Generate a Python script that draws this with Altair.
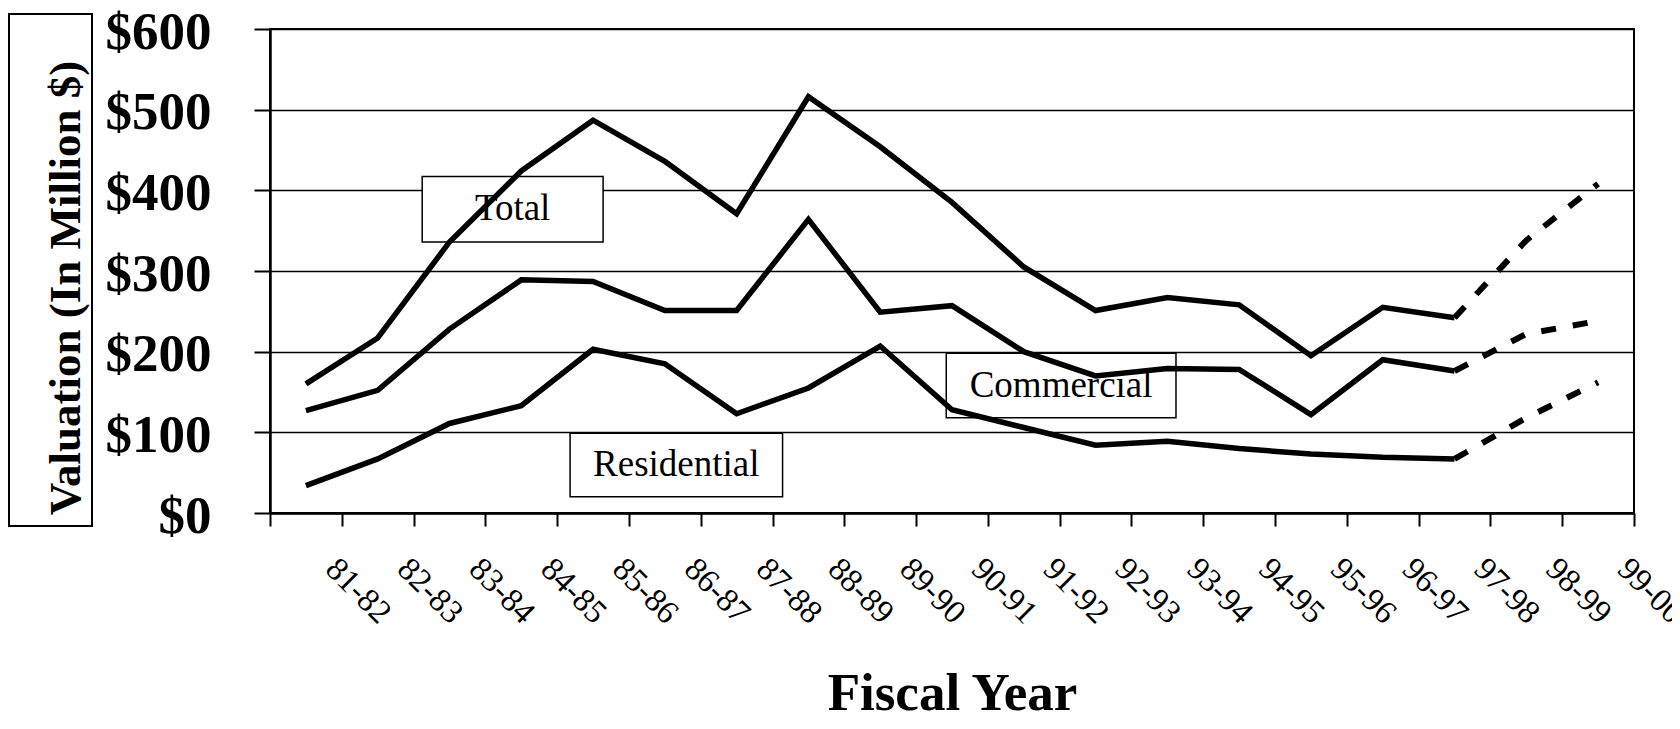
import altair as alt
import pandas as pd

# ---- data ----
years = ["81-82", "82-83", "83-84", "84-85", "85-86", "86-87", "87-88", "88-89",
         "89-90", "90-91", "91-92", "92-93", "93-94", "94-95", "95-96", "96-97",
         "97-98", "98-99", "99-00"]

# actual values 81-82 .. 97-98
total_actual = [160, 217, 336, 424, 487, 436, 371, 516, 454, 385, 305, 251, 267, 258, 195, 255, 242]
commercial_actual = [127, 152, 228, 289, 287, 251, 251, 364, 249, 257, 200, 170, 179, 178, 122, 190, 176]
residential_actual = [34, 67, 111, 133, 203, 185, 123, 155, 207, 128, 106, 84, 89, 80, 73, 69, 67]

# projected values 97-98 .. 99-00
proj_years = ["97-98", "98-99", "99-00"]
total_proj = [242, 338, 408]
commercial_proj = [176, 222, 238]
residential_proj = [67, 118, 162]

y_ticks = [0, 100, 200, 300, 400, 500, 600]

# label boxes (category-band units for x, $M for y)
box_labels = ["Total", "Commercial", "Residential"]
box_x1 = [2.12, 9.42, 4.18]
box_x2 = [4.64, 12.62, 7.14]
box_y1 = [336, 118, 20]
box_y2 = [417, 198, 99]

# ---- build tables ----
def rows(series, yrs, vals, seg):
    return [{"series": series, "year": y, "pos": years.index(y) + 0.5,
             "value": v, "seg": seg} for y, v in zip(yrs, vals)]

act_years = years[:len(total_actual)]
records = (rows("Total", act_years, total_actual, "actual")
           + rows("Commercial", act_years, commercial_actual, "actual")
           + rows("Residential", act_years, residential_actual, "actual")
           + rows("Total", proj_years, total_proj, "projected")
           + rows("Commercial", proj_years, commercial_proj, "projected")
           + rows("Residential", proj_years, residential_proj, "projected"))
df = pd.DataFrame(records)

boxes = pd.DataFrame({"label": box_labels, "x1": box_x1, "x2": box_x2,
                      "y1": box_y1, "y2": box_y2})
boxes["xc"] = (boxes["x1"] + boxes["x2"]) / 2
boxes["yc"] = (boxes["y1"] + boxes["y2"]) / 2

W, H = 1364, 484
SERIF = "Liberation Serif"

arr = "[" + ",".join("'%s'" % y for y in years) + "]"
label_expr = "datum.value >= 1 ? %s[datum.value - 1] : ''" % arr

x_scale = alt.Scale(domain=[0, len(years)], nice=False, zero=False)
y_scale = alt.Scale(domain=[0, 600], nice=False)

x_axis = alt.Axis(values=list(range(len(years) + 1)), labelExpr=label_expr,
                  labelAngle=45, labelAlign="left", labelBaseline="top",
                  labelFont=SERIF, labelFontSize=33, labelColor="black",
                  labelPadding=26, labelFlush=False, labelOverlap=False,
                  tickSize=13, tickWidth=2, tickColor="black",
                  domainColor="black", domainWidth=2.5, grid=False,
                  title="Fiscal Year", titleFont=SERIF, titleFontSize=53,
                  titleFontWeight="bold", titleColor="black",
                  titleY=196, titleX=W / 2, titleBaseline="alphabetic",
                  titleAlign="center")

y_axis = alt.Axis(values=y_ticks, labelExpr="'$' + datum.value",
                  labelFont=SERIF, labelFontSize=53, labelFontWeight="bold",
                  labelColor="black", labelPadding=43, labelFlush=False,
                  labelOffset=3,
                  tickSize=16, tickWidth=2, tickColor="black",
                  domainColor="black", domainWidth=2.5,
                  grid=True, gridColor="black", gridWidth=1.5, gridOpacity=1,
                  title=None)

base = alt.Chart(df)

solid = base.transform_filter(alt.datum.seg == "actual").mark_line(
    color="black", strokeWidth=5.5, strokeJoin="miter"
).encode(
    x=alt.X("pos:Q", scale=x_scale, axis=x_axis),
    y=alt.Y("value:Q", scale=y_scale, axis=y_axis),
    detail="series:N",
    order="pos:Q",
)

dashed = base.transform_filter(alt.datum.seg == "projected").mark_line(
    color="black", strokeWidth=6, strokeDash=[15, 17]
).encode(
    x=alt.X("pos:Q", scale=x_scale),
    y=alt.Y("value:Q", scale=y_scale),
    detail="series:N",
    order="pos:Q",
)

box_rect = alt.Chart(boxes).mark_rect(
    fill="white", stroke="black", strokeWidth=1.5
).encode(
    x=alt.X("x1:Q", scale=x_scale), x2="x2:Q",
    y=alt.Y("y1:Q", scale=y_scale), y2="y2:Q",
)

box_text = alt.Chart(boxes).mark_text(
    font=SERIF, fontSize=37, color="black", align="center", baseline="middle"
).encode(
    x=alt.X("xc:Q", scale=x_scale),
    y=alt.Y("yc:Q", scale=y_scale),
    text="label:N",
)

one = pd.DataFrame({"t": ["Valuation (In Million $)"]})
title_box = alt.Chart(one).mark_rect(
    fill="white", stroke="black", strokeWidth=2
).encode(
    x=alt.value(-261), x2=alt.value(-178), y=alt.value(-15), y2=alt.value(497)
)
title_text = alt.Chart(one).mark_text(
    font=SERIF, fontSize=45, fontWeight="bold", color="black", angle=270,
    align="center", baseline="alphabetic"
).encode(
    x=alt.value(-190), y=alt.value(259), text="t:N"
)

chart = alt.layer(
    title_box, title_text, box_rect, box_text, solid, dashed
).properties(
    width=W, height=H,
    autosize=alt.AutoSizeParams(type="none"),
    padding={"left": 262, "top": 21, "right": 38, "bottom": 208},
    background="white",
).configure_view(
    stroke="black", strokeWidth=2
)

chart.save("out.html", embed_options={"renderer": "svg", "actions": False})
